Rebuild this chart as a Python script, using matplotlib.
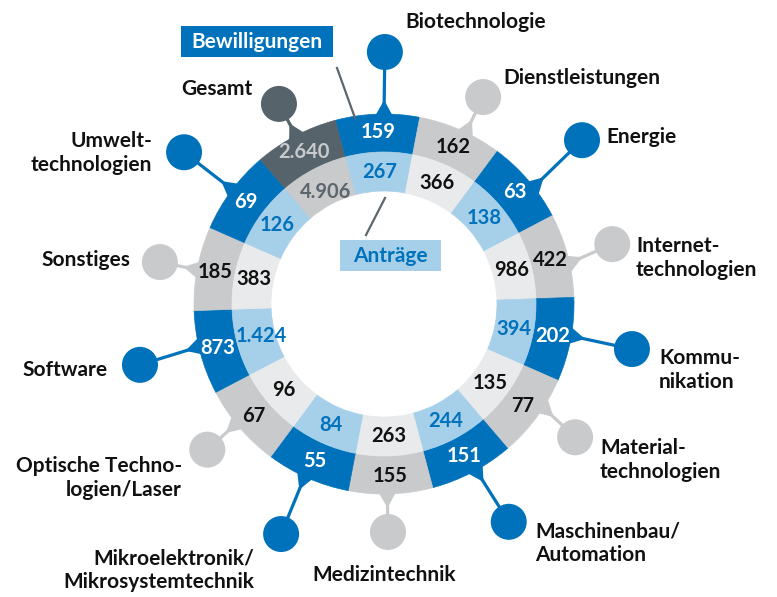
import numpy as np
import matplotlib.pyplot as plt
from matplotlib.patches import Wedge, Circle, Polygon, Rectangle

plt.rcParams['font.family'] = ['Lato', 'DejaVu Sans']

# Segmente im Uhrzeigersinn, oben beginnend
kategorien = ["Biotechnologie", "Dienstleistungen", "Energie", "Internet-\ntechnologien",
              "Kommu-\nnikation", "Material-\ntechnologien", "Maschinenbau/\nAutomation",
              "Medizintechnik", "Mikroelektronik/\nMikrosystemtechnik", "Optische Techno-\nlogien/Laser",
              "Software", "Sonstiges", "Umwelt-\ntechnologien", "Gesamt"]
bewilligungen = [159, 162, 63, 422, 202, 77, 151, 155, 55, 67, 873, 185, 69, 2640]
antraege = [267, 366, 138, 986, 394, 135, 244, 263, 84, 96, 1424, 383, 126, 4906]

# Layout der Pins (Winkel in Grad, Radius in Pixel) und Beschriftungen
pin_anker = [90, 64.5, 38, 12.5, -9.7, -33, -61, -89, -114.7, -141, -167, 169.6, 143, 117.6]
pin_winkel = [89.8, 64.4, 39.6, 14.7, -10.3, -34.9, -60.2, -89, -114.1, -140.5, -166, 169.4, 142.8, 117.7]
pin_radius = [252, 229.5, 257, 236, 252, 233, 251, 228, 252, 229, 251.5, 228, 251, 226]
label_pos = [(405, 22, "left"), (503, 78, "left"), (606, 137, "left"), (636, 258, "left"),
             (659, 370, "left"), (600, 460, "left"), (535, 543, "left"), (384, 575, "center"),
             (254, 570, "right"), (182, 478, "right"), (108, 370, "right"), (130, 260, "right"),
             (152, 153, "right"), (252, 89, "right")]

BLAU = "#0072bb"
HELLBLAU = "#a6cfea"
GRAU = "#c8cacc"
HELLGRAU = "#e9eaeb"
DUNKEL = "#56636b"
TEXTDUNKEL = "#5b666d"

W, H = 777, 597
cx, cy = 384, H - 304
r_aussen, r_mitte, r_innen = 190, 152, 113
schritt = 360 / len(kategorien)
start = 92


def fmt(v):
    return f"{v:,}".replace(",", ".")


def polar(ang, r):
    a = np.radians(ang)
    return np.array([cx + r * np.cos(a), cy + r * np.sin(a)])


fig = plt.figure(figsize=(W / 100, H / 100), dpi=100)
ax = fig.add_axes([0, 0, 1, 1])
ax.set_xlim(0, W)
ax.set_ylim(0, H)
ax.axis("off")

for i, name in enumerate(kategorien):
    mitte = start - i * schritt
    if i == len(kategorien) - 1:
        c_out, c_in, t_out, t_in = DUNKEL, GRAU, GRAU, TEXTDUNKEL
        c_pin = DUNKEL
    elif i % 2 == 0:
        c_out, c_in, t_out, t_in = BLAU, HELLBLAU, "white", BLAU
        c_pin = BLAU
    else:
        c_out, c_in, t_out, t_in = GRAU, HELLGRAU, "#111111", "#111111"
        c_pin = GRAU

    # Ringsegmente
    ax.add_patch(Wedge((cx, cy), r_aussen, mitte - schritt / 2, mitte + schritt / 2,
                       width=r_aussen - r_mitte, facecolor=c_out, edgecolor=c_out, lw=0.5, zorder=2))
    ax.add_patch(Wedge((cx, cy), r_mitte, mitte - schritt / 2, mitte + schritt / 2,
                       width=r_mitte - r_innen, facecolor=c_in, edgecolor=c_in, lw=0.5, zorder=2))

    # Pin: Dreieck, Linie, Kreis
    kante = polar(pin_anker[i], r_aussen)
    kreis = polar(pin_winkel[i], pin_radius[i])
    d = (kreis - kante) / np.linalg.norm(kreis - kante)
    n = np.array([-d[1], d[0]])
    basis = kante - d * 5
    spitze = kante + d * 14
    ax.add_patch(Polygon([basis + n * 10.5, basis - n * 10.5, spitze], closed=True,
                         facecolor=c_pin, edgecolor="none", zorder=1))
    ax.plot([kante[0], kreis[0]], [kante[1], kreis[1]], color=c_pin, lw=2.3, zorder=1,
            solid_capstyle="butt")
    ax.add_patch(Circle(kreis, 18, facecolor=c_pin, edgecolor="none", zorder=1))

    # Werte
    p = polar(mitte, (r_aussen + r_mitte) / 2 + 1)
    ax.text(p[0], p[1], fmt(bewilligungen[i]), color=t_out, fontsize=14.5, fontweight="bold",
            ha="center", va="center", zorder=3)
    r_text = (r_mitte + r_innen) / 2 - (6 if antraege[i] >= 1000 else 0)
    p = polar(mitte, r_text)
    ax.text(p[0], p[1], fmt(antraege[i]), color=t_in, fontsize=14.5, fontweight="bold",
            ha="center", va="center", zorder=3)

    # Kategorie
    lx, ly, ha = label_pos[i]
    ax.text(lx, H - ly, name, fontsize=15, fontweight="bold", color="#111111",
            ha=ha, va="center", multialignment=ha, linespacing=1.22, zorder=3)

# Legende
ax.add_patch(Rectangle((181, H - 57), 152, 31, facecolor=BLAU, edgecolor="none"))
ax.text(257, H - 41.5, "Bewilligungen", color="white", fontsize=15, fontweight="bold",
        ha="center", va="center")
ax.plot([337, 355], [H - 68, H - 118], color=TEXTDUNKEL, lw=1.6, zorder=4)

ax.add_patch(Rectangle((340, H - 271), 101, 31, facecolor=HELLBLAU, edgecolor="none"))
ax.text(390.5, H - 255.5, "Anträge", color=BLAU, fontsize=15, fontweight="bold",
        ha="center", va="center")
ax.plot([385, 366], [H - 198, H - 235], color=TEXTDUNKEL, lw=1.6, zorder=4)

plt.savefig("out.png", dpi=100)
